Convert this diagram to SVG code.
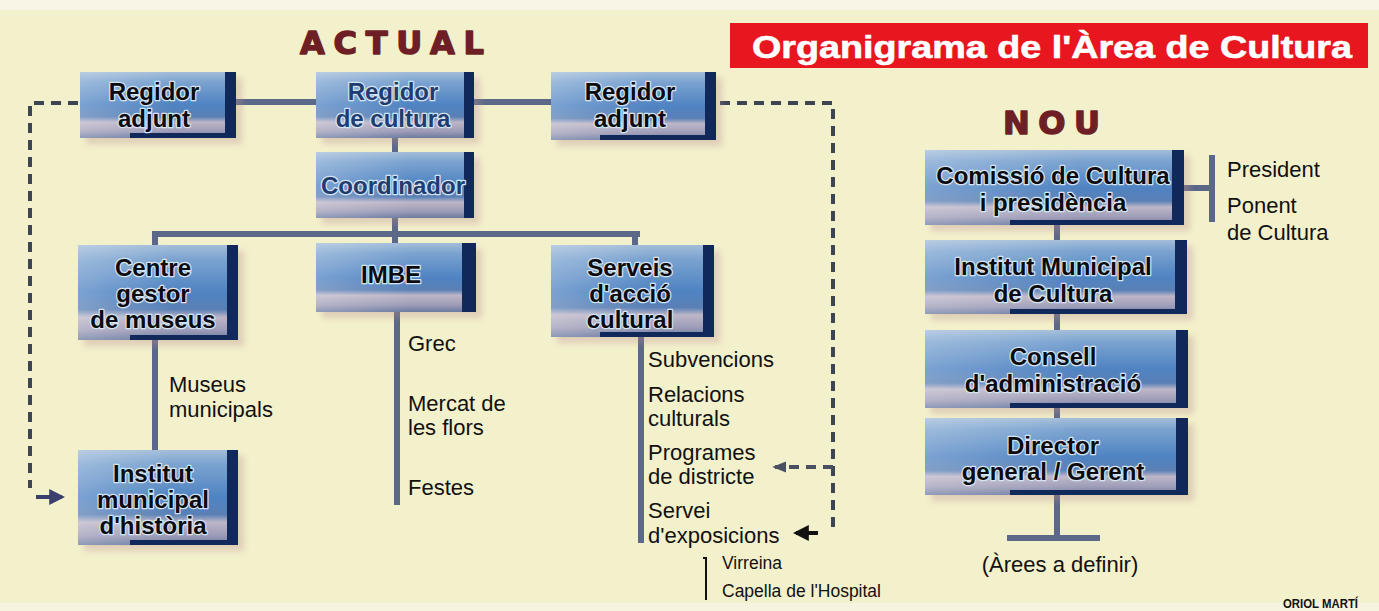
<svg xmlns="http://www.w3.org/2000/svg" width="1379" height="611" viewBox="0 0 1379 611">
<defs>
<linearGradient id="boxg" x1="0" y1="0" x2="0" y2="1">
<stop offset="0" stop-color="#a3bdd9"/>
<stop offset="0.15" stop-color="#7ba3d0"/>
<stop offset="0.5" stop-color="#4f83c2"/>
<stop offset="0.68" stop-color="#5a80b5"/>
<stop offset="0.76" stop-color="#bdb6c8"/>
<stop offset="0.9" stop-color="#9c9bb7"/>
<stop offset="1" stop-color="#6a7aa0"/>
</linearGradient>
<linearGradient id="sheen" x1="0" y1="0" x2="1" y2="0">
<stop offset="0" stop-color="#ffffff" stop-opacity="0.25"/>
<stop offset="0.6" stop-color="#ffffff" stop-opacity="0"/>
</linearGradient>
<filter id="blur" x="-10%" y="-10%" width="130%" height="130%"><feGaussianBlur stdDeviation="3"/></filter>
<marker id="ahDark" viewBox="0 0 10 10" refX="8" refY="5" markerUnits="userSpaceOnUse" markerWidth="16" markerHeight="16" orient="auto"><path d="M0,0 L10,5 L0,10 z" fill="#3b3f6e"/></marker>
<marker id="ahGrey" viewBox="0 0 10 10" refX="8" refY="5" markerUnits="userSpaceOnUse" markerWidth="14" markerHeight="14" orient="auto"><path d="M0,1 L10,5 L0,9 z" fill="#4a5062"/></marker>
<marker id="ahBlack" viewBox="0 0 10 10" refX="8" refY="5" markerUnits="userSpaceOnUse" markerWidth="16" markerHeight="16" orient="auto"><path d="M0,0 L10,5 L0,10 z" fill="#111"/></marker>
</defs>
<style>
.bg{fill:#f3f0cc}
.shadow{fill:#b98f8f;opacity:0.35;filter:url(#blur)}
.body{fill:url(#boxg)}
.sheen{fill:url(#sheen)}
.navy{fill:#10295a}
.bt{font-family:"Liberation Sans",Arial,sans-serif;font-weight:bold;font-size:24px;fill:#0b0b12;text-anchor:middle;stroke:#d5e4f0;stroke-width:2.5;paint-order:stroke;stroke-linejoin:round}
.bt.blue{fill:#213c70}
.lbl{font-family:"Liberation Sans",Arial,sans-serif;font-size:22px;fill:#111}
.sm{font-family:"Liberation Sans",Arial,sans-serif;font-size:17.5px;fill:#111}
.line{stroke:#5b6888;stroke-width:6;fill:none}
.dash{stroke:#3d4452;stroke-width:4;stroke-dasharray:10 7;fill:none}
.head{font-family:"DejaVu Sans",sans-serif;font-weight:bold;fill:#6e1f26;stroke:#6e1f26;stroke-width:1.5;stroke-linejoin:round}
</style>
<rect class="bg" x="0" y="0" width="1379" height="611"/>
<rect x="0" y="0" width="1379" height="10" fill="#f8f5e6"/>
<rect x="0" y="603" width="1379" height="8" fill="#f6f3df"/>

<g id="title">
<rect x="730" y="23" width="638" height="45" fill="#e8161e"/>
<text x="752" y="58" font-family="Liberation Sans,Arial,sans-serif" font-weight="bold" font-size="31" fill="#fff" stroke="#fff" stroke-width="0.6" textLength="600" lengthAdjust="spacingAndGlyphs">Organigrama de l'Àrea de Cultura</text>
</g>
<text class="head" x="300" y="54" font-size="32" textLength="184" lengthAdjust="spacing">ACTUAL</text>
<text class="head" x="1003" y="134" font-size="32" textLength="97" lengthAdjust="spacing">NOU</text>

<g id="connectors">
<path class="line" d="M236,102 H316 M474,102 H551"/>
<path class="line" d="M395,138 V152 M395,218 V234"/>
<path class="line" d="M152,234 H640"/>
<path class="line" d="M155,234 V245 M395,234 V243 M635,234 V245"/>
<path class="line" d="M155,340 V450"/>
<path class="line" d="M397,312 V505"/>
<path class="line" d="M641,337 V543"/>
<path d="M706,557 V600 M703,558 H707" stroke="#111" stroke-width="2" fill="none"/>
<path class="dash" d="M78,103 H30 V488"/>
<path d="M36,497 H62" stroke="#3b3f6e" stroke-width="4" marker-end="url(#ahDark)"/>
<path class="dash" d="M720,103 H833 V530"/>
<path d="M833,467 H775" stroke="#4a5062" stroke-width="4" stroke-dasharray="10 7" marker-end="url(#ahGrey)"/>
<path d="M818,533 H796" stroke="#111" stroke-width="4" marker-end="url(#ahBlack)"/>
<path class="line" d="M1184,188 H1212 M1212,155 V222"/>
<path class="line" d="M1057,225 V240 M1057,314 V330 M1057,408 V418 M1057,495 V538"/>
<path class="line" d="M1007,538 H1100"/>
</g>

<g id="n-regidor-adjunt-1">
<rect class="shadow" x="86" y="78" width="156" height="66"/>
<rect class="body" x="80" y="72" width="156" height="66"/>
<rect class="sheen" x="80" y="72" width="156" height="66"/>
<rect class="navy" x="225" y="72" width="11" height="66"/>
<rect class="navy" x="130" y="133" width="106" height="5"/>
<text class="bt" x="154" y="100">Regidor</text>
<text class="bt" x="154" y="127">adjunt</text>
</g>
<g id="n-regidor-cultura">
<rect class="shadow" x="322" y="78" width="158" height="66"/>
<rect class="body" x="316" y="72" width="158" height="66"/>
<rect class="sheen" x="316" y="72" width="158" height="66"/>
<rect class="navy" x="464" y="72" width="10" height="66"/>
<text class="bt blue" x="393" y="100">Regidor</text>
<text class="bt blue" x="393" y="127">de cultura</text>
</g>
<g id="n-regidor-adjunt-2">
<rect class="shadow" x="557" y="78" width="165" height="68"/>
<rect class="body" x="551" y="72" width="165" height="68"/>
<rect class="sheen" x="551" y="72" width="165" height="68"/>
<rect class="navy" x="705" y="72" width="11" height="68"/>
<rect class="navy" x="600" y="135" width="116" height="5"/>
<text class="bt" x="630" y="100">Regidor</text>
<text class="bt" x="630" y="127">adjunt</text>
</g>
<g id="n-coordinador">
<rect class="shadow" x="322" y="158" width="158" height="66"/>
<rect class="body" x="316" y="152" width="158" height="66"/>
<rect class="sheen" x="316" y="152" width="158" height="66"/>
<rect class="navy" x="464" y="152" width="10" height="66"/>
<text class="bt blue" x="393" y="194" font-size="25">Coordinador</text>
</g>
<g id="n-centre-gestor">
<rect class="shadow" x="84" y="251" width="160" height="95"/>
<rect class="body" x="78" y="245" width="160" height="95"/>
<rect class="sheen" x="78" y="245" width="160" height="95"/>
<rect class="navy" x="227" y="245" width="11" height="95"/>
<rect class="navy" x="130" y="335" width="108" height="5"/>
<text class="bt" x="153" y="276">Centre</text>
<text class="bt" x="153" y="302">gestor</text>
<text class="bt" x="153" y="328">de museus</text>
</g>
<g id="n-imbe">
<rect class="shadow" x="322" y="249" width="160" height="69"/>
<rect class="body" x="316" y="243" width="160" height="69"/>
<rect class="sheen" x="316" y="243" width="160" height="69"/>
<rect class="navy" x="462" y="243" width="14" height="69"/>
<text class="bt" x="391" y="283">IMBE</text>
</g>
<g id="n-serveis">
<rect class="shadow" x="557" y="251" width="163" height="92"/>
<rect class="body" x="551" y="245" width="163" height="92"/>
<rect class="sheen" x="551" y="245" width="163" height="92"/>
<rect class="navy" x="703" y="245" width="11" height="92"/>
<rect class="navy" x="600" y="332" width="114" height="5"/>
<text class="bt" x="630" y="276">Serveis</text>
<text class="bt" x="630" y="302">d'acció</text>
<text class="bt" x="630" y="328">cultural</text>
</g>
<g id="n-institut-historia">
<rect class="shadow" x="84" y="456" width="160" height="95"/>
<rect class="body" x="78" y="450" width="160" height="95"/>
<rect class="sheen" x="78" y="450" width="160" height="95"/>
<rect class="navy" x="227" y="450" width="11" height="95"/>
<rect class="navy" x="130" y="540" width="108" height="5"/>
<text class="bt" x="153" y="482">Institut</text>
<text class="bt" x="153" y="508">municipal</text>
<text class="bt" x="153" y="534">d'història</text>
</g>
<g id="n-comissio">
<rect class="shadow" x="931" y="156" width="259" height="75"/>
<rect class="body" x="925" y="150" width="259" height="75"/>
<rect class="sheen" x="925" y="150" width="259" height="75"/>
<rect class="navy" x="1172" y="150" width="12" height="75"/>
<rect class="navy" x="1010" y="220" width="174" height="5"/>
<text class="bt" x="1053" y="184">Comissió de Cultura</text>
<text class="bt" x="1053" y="211">i presidència</text>
</g>
<g id="n-imc">
<rect class="shadow" x="931" y="246" width="262" height="74"/>
<rect class="body" x="925" y="240" width="262" height="74"/>
<rect class="sheen" x="925" y="240" width="262" height="74"/>
<rect class="navy" x="1175" y="240" width="12" height="74"/>
<rect class="navy" x="1010" y="309" width="177" height="5"/>
<text class="bt" x="1053" y="275">Institut Municipal</text>
<text class="bt" x="1053" y="302">de Cultura</text>
</g>
<g id="n-consell">
<rect class="shadow" x="931" y="336" width="263" height="78"/>
<rect class="body" x="925" y="330" width="263" height="78"/>
<rect class="sheen" x="925" y="330" width="263" height="78"/>
<rect class="navy" x="1176" y="330" width="12" height="78"/>
<rect class="navy" x="1010" y="403" width="178" height="5"/>
<text class="bt" x="1053" y="365">Consell</text>
<text class="bt" x="1053" y="392">d'administració</text>
</g>
<g id="n-director">
<rect class="shadow" x="931" y="424" width="263" height="77"/>
<rect class="body" x="925" y="418" width="263" height="77"/>
<rect class="sheen" x="925" y="418" width="263" height="77"/>
<rect class="navy" x="1176" y="418" width="12" height="77"/>
<rect class="navy" x="1010" y="490" width="178" height="5"/>
<text class="bt" x="1053" y="454">Director</text>
<text class="bt" x="1053" y="480">general / Gerent</text>
</g>

<g id="labels">
<text class="lbl" x="169" y="392">Museus</text>
<text class="lbl" x="169" y="417">municipals</text>
<text class="lbl" x="408" y="351" font-size="23">Grec</text>
<text class="lbl" x="408" y="411" font-size="23">Mercat de</text>
<text class="lbl" x="408" y="435" font-size="23">les flors</text>
<text class="lbl" x="408" y="495" font-size="23">Festes</text>
<text class="lbl" x="648" y="367">Subvencions</text>
<text class="lbl" x="648" y="402">Relacions</text>
<text class="lbl" x="648" y="426">culturals</text>
<text class="lbl" x="648" y="460">Programes</text>
<text class="lbl" x="648" y="484">de districte</text>
<text class="lbl" x="648" y="518">Servei</text>
<text class="lbl" x="648" y="543">d'exposicions</text>
<text class="sm" x="722" y="569">Virreina</text>
<text class="sm" x="722" y="597">Capella de l'Hospital</text>
<text class="lbl" x="1227" y="177" font-size="25">President</text>
<text class="lbl" x="1227" y="213" font-size="25">Ponent</text>
<text class="lbl" x="1227" y="240" font-size="25">de Cultura</text>
<text class="lbl" x="1060" y="572" font-size="26" text-anchor="middle">(Àrees a definir)</text>
<text x="1283" y="608" font-family="Liberation Sans,Arial,sans-serif" font-weight="bold" font-size="12" fill="#111" textLength="75" lengthAdjust="spacingAndGlyphs">ORIOL MARTÍ</text>
</g>
</svg>
